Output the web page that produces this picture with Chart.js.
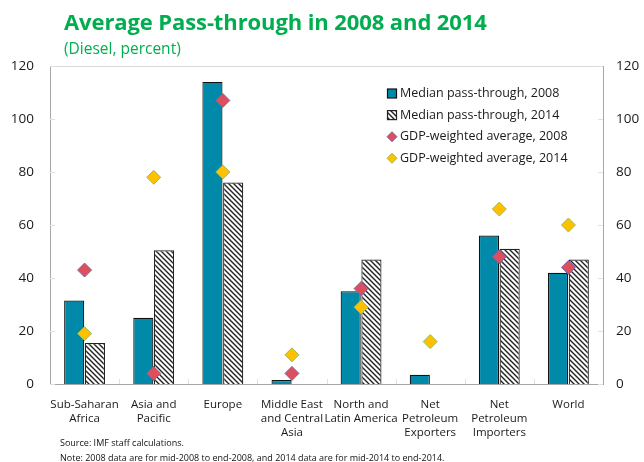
<!DOCTYPE html>
<html>
<head>
<meta charset="utf-8">
<script src="https://cdn.jsdelivr.net/npm/chart.js@4"></script>
<style>
  html, body { margin: 0; padding: 0; background: #fff; }
  #wrap { position: relative; width: 644px; height: 462px; font-family: "Open Sans", sans-serif; }
  #chart { position: absolute; left: 0; top: 0; }
  .title { position: absolute; left: 64px; top: 6px; font-size: 22px; font-weight: bold; color: #00AE4F; letter-spacing: -0.1px; }
  .sub { position: absolute; left: 64px; top: 37px; font-size: 15.5px; color: #00B050; }
  .note { position: absolute; left: 60px; font-size: 9px; color: #111; }
</style>
</head>
<body>
<div id="wrap">
  <canvas id="chart" width="644" height="462"></canvas>
  <div class="title">Average Pass-through in 2008 and 2014</div>
  <div class="sub">(Diesel, percent)</div>
  <div class="note" style="top:436px">Source: IMF staff calculations.</div>
  <div class="note" style="top:451px">Note: 2008 data are for mid-2008 to end-2008, and 2014 data are for mid-2014 to end-2014.</div>
</div>
<script>
const categories = [
  ["Sub-Saharan", "Africa"],
  ["Asia and", "Pacific"],
  ["Europe"],
  ["Middle East", "and Central", "Asia"],
  ["North and", "Latin America"],
  ["Net", "Petroleum", "Exporters"],
  ["Net", "Petroleum", "Importers"],
  ["World"]
];
const median2008 = [31.5, 25, 114, 1.5, 35, 3.5, 56, 42];
const median2014 = [15.5, 50.5, 76, null, 47, null, 51, 47];
const gdp2008    = [43, 4, 107, 4, 36, null, 48, 44];
const gdp2014    = [19, 78, 80, 11, 29, 16, 66, 60];
const yTicks     = [0, 20, 40, 60, 80, 100, 120];

const TEAL = "#0089A9";
const RED = "#DD4F5C", RED_EDGE = "#8064A2";
const YEL = "#FFC000", YEL_EDGE = "#9BBB59";

// diagonal hatch for the 2014 bars
function hatch() {
  const c = document.createElement("canvas");
  c.width = 5; c.height = 5;
  const g = c.getContext("2d");
  g.fillStyle = "#fff"; g.fillRect(0, 0, 5, 5);
  g.strokeStyle = "#222"; g.lineWidth = 1.4;
  g.beginPath();
  g.moveTo(-1, -1); g.lineTo(6, 6);
  g.moveTo(-1, 4); g.lineTo(1, 6);
  g.moveTo(4, -1); g.lineTo(6, 1);
  g.stroke();
  return document.getElementById("chart").getContext("2d").createPattern(c, "repeat");
}
const HATCH = hatch();

const legendItems = [
  { text: "Median pass-through, 2008", kind: "box", fill: TEAL, edge: "#111" },
  { text: "Median pass-through, 2014", kind: "box", fill: HATCH, edge: "#222" },
  { text: "GDP-weighted average, 2008", kind: "dia", fill: RED, edge: RED_EDGE },
  { text: "GDP-weighted average, 2014", kind: "dia", fill: YEL, edge: YEL_EDGE }
];

const frame = {
  id: "frame",
  beforeDatasetsDraw(chart) {
    const { ctx, chartArea: a, scales } = chart;
    ctx.save();
    ctx.strokeStyle = "#d9d9d9"; ctx.lineWidth = 1;
    ctx.beginPath();
    ctx.moveTo(a.left, a.top + 0.5); ctx.lineTo(a.right, a.top + 0.5);
    ctx.stroke();
    // small inner ticks on both value axes
    ctx.strokeStyle = "#e0e0e0";
    yTicks.forEach(v => {
      const y = Math.round(scales.y.getPixelForValue(v)) + 0.5;
      ctx.beginPath();
      ctx.moveTo(a.left, y); ctx.lineTo(a.left + 5, y);
      ctx.moveTo(a.right - 5, y); ctx.lineTo(a.right, y);
      ctx.stroke();
    });
    // category separators on the x axis
    const step = (a.right - a.left) / categories.length;
    for (let i = 1; i < categories.length; i++) {
      const x = Math.round(a.left + step * i) + 0.5;
      ctx.beginPath(); ctx.moveTo(x, a.bottom); ctx.lineTo(x, a.bottom - 5); ctx.stroke();
    }
    ctx.restore();
  },
  afterDraw(chart) {
    const { ctx } = chart;
    ctx.save();
    ctx.font = "12.5px 'Open Sans', sans-serif";
    ctx.textBaseline = "middle";
    legendItems.forEach((it, i) => {
      const x = 392, y = 93.5 + i * 21.6;
      if (it.kind === "box") {
        ctx.fillStyle = it.fill; ctx.fillRect(x - 4.5, y - 4.5, 9, 9);
        ctx.strokeStyle = it.edge; ctx.lineWidth = 1.2; ctx.strokeRect(x - 4.5, y - 4.5, 9, 9);
      } else {
        ctx.beginPath();
        ctx.moveTo(x, y - 5); ctx.lineTo(x + 5, y); ctx.lineTo(x, y + 5); ctx.lineTo(x - 5, y); ctx.closePath();
        ctx.fillStyle = it.fill; ctx.fill();
        ctx.strokeStyle = it.edge; ctx.lineWidth = 1; ctx.stroke();
      }
      ctx.fillStyle = "#1a1a1a";
      ctx.fillText(it.text, x + 8, y);
    });
    ctx.restore();
  }
};

const tickFont = { family: "'Open Sans', sans-serif", size: 13.5 };

new Chart(document.getElementById("chart"), {
  data: {
    labels: categories,
    datasets: [
      { type: "line", label: "GDP-weighted average, 2008", data: gdp2008, showLine: false,
        pointStyle: "rectRot", pointRadius: 7, pointHoverRadius: 7,
        pointBackgroundColor: RED, pointBorderColor: RED_EDGE, pointBorderWidth: 1, order: 0 },
      { type: "line", label: "GDP-weighted average, 2014", data: gdp2014, showLine: false,
        pointStyle: "rectRot", pointRadius: 7, pointHoverRadius: 7,
        pointBackgroundColor: YEL, pointBorderColor: YEL_EDGE, pointBorderWidth: 1, order: 0 },
      { type: "bar", label: "Median pass-through, 2008", data: median2008,
        backgroundColor: TEAL, borderColor: "#111", borderWidth: 1.2, order: 1,
        categoryPercentage: 0.6, barPercentage: 0.97 },
      { type: "bar", label: "Median pass-through, 2014", data: median2014,
        backgroundColor: HATCH, borderColor: "#222", borderWidth: 1.2, order: 1,
        categoryPercentage: 0.6, barPercentage: 0.97 }
    ]
  },
  options: {
    responsive: false,
    animation: false,
    layout: { padding: { top: 66, left: 0, right: 0, bottom: 0 } },
    plugins: { legend: { display: false }, tooltip: { enabled: false }, title: { display: false } },
    scales: {
      x: {
        grid: { display: false },
        border: { color: "#a6a6a6" },
        ticks: { color: "#1a1a1a", font: { family: "'Open Sans', sans-serif", size: 11.5 }, maxRotation: 0, autoSkip: false, padding: 6 },
        afterFit: s => { s.height = 78; }
      },
      y: {
        position: "left", min: 0, max: 120,
        grid: { display: false },
        border: { color: "#a6a6a6" },
        afterBuildTicks: s => { s.ticks = yTicks.map(v => ({ value: v })); },
        ticks: { color: "#1a1a1a", font: tickFont, padding: 8 },
        afterFit: s => { s.width = 50; }
      },
      y2: {
        position: "right", min: 0, max: 120,
        grid: { display: false },
        border: { color: "#a6a6a6" },
        afterBuildTicks: s => { s.ticks = yTicks.map(v => ({ value: v })); },
        ticks: { color: "#1a1a1a", font: tickFont, padding: 5 },
        afterFit: s => { s.width = 41; }
      }
    }
  },
  plugins: [frame]
});
</script>
</body>
</html>
